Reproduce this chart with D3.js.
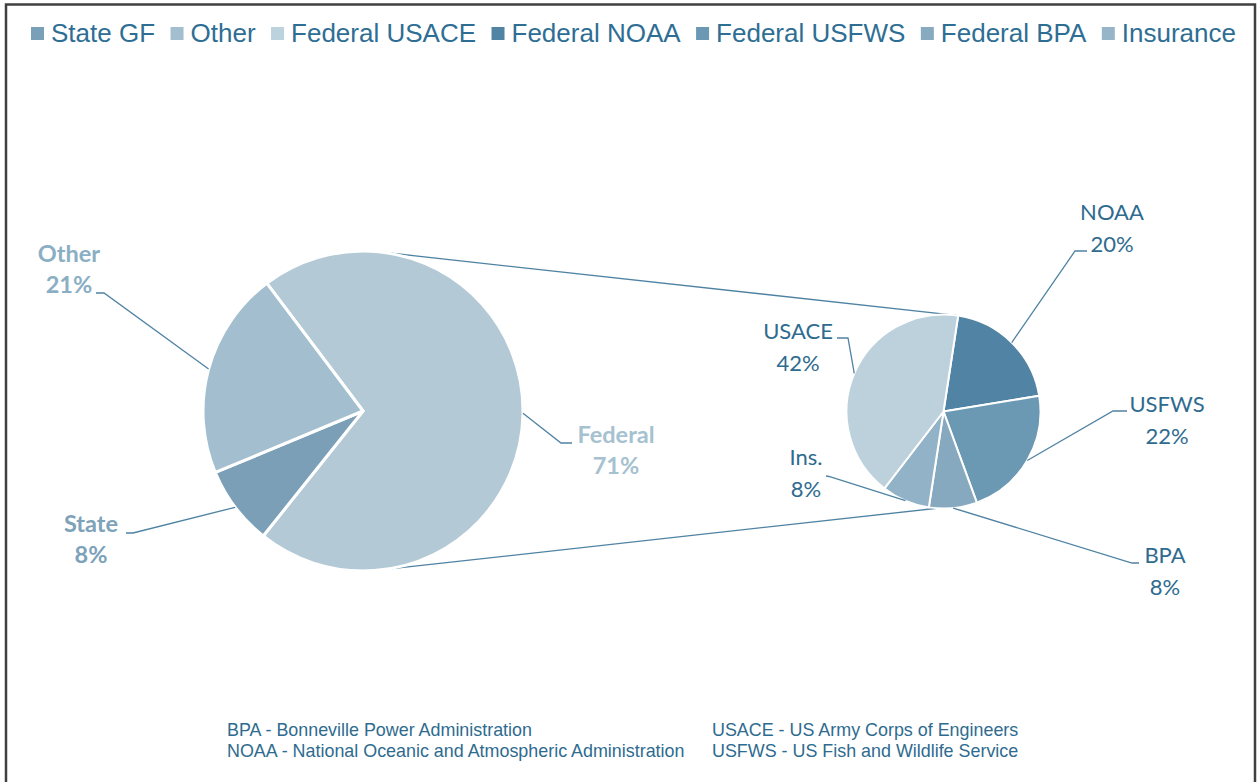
<!DOCTYPE html>
<html>
<head>
<meta charset="utf-8">
<script src="https://cdnjs.cloudflare.com/ajax/libs/d3/7.8.5/d3.min.js"></script>
<style>
  body { margin: 0; background: #fff; }
  svg { display: block; }
</style>
</head>
<body>
<div id="chart-area"></div>
<script>

// Chart data
var mainCategories = ["Federal", "State", "Other"];
var mainValues = [71, 8, 21];

var subCategories = ["NOAA", "USFWS", "BPA", "Ins.", "USACE"];
var subValues = [20, 22, 8, 8, 42];

var legendNames = ["State GF", "Other", "Federal USACE", "Federal NOAA", "Federal USFWS", "Federal BPA", "Insurance"];

var footnotes = [
    ["BPA - Bonneville Power Administration", "NOAA - National Oceanic and Atmospheric Administration"],
    ["USACE - US Army Corps of Engineers", "USFWS - US Fish and Wildlife Service"]
];

// Colours
var mainColors = { "Federal": "#b3c9d6", "State": "#7a9fb7", "Other": "#a3bfcf" };
var mainLabelColors = { "Federal": "#a6c1d0", "State": "#7da2b9", "Other": "#8aafc4" };
var subColors = { "NOAA": "#5083a4", "USFWS": "#6b98b3", "BPA": "#86a9bf", "Ins.": "#92b3c7", "USACE": "#bcd1dc" };
var legendColors = ["#7aa0b8", "#a3bfcf", "#bcd2dd", "#5083a4", "#6b99b4", "#87aac0", "#97b5c8"];

var textBlue = "#2e6b8f";
var lineBlue = "#4f83a3";

// SVG Size
var width = 1257,
    height = 782;

var svg = d3.select("#chart-area")
    .append("svg")
    .attr("width", width)
    .attr("height", height);

// outer frame (bottom edge runs off the picture)
svg.append("rect")
    .attr("x", 6)
    .attr("y", 4.5)
    .attr("width", 1249)
    .attr("height", 800)
    .attr("fill", "none")
    .attr("stroke", "#404040")
    .attr("stroke-width", 2.5);

var deg = Math.PI / 180;

// main pie geometry
var mainCx = 363, mainCy = 411, mainR = 160;
// secondary pie geometry
var subCx = 943.5, subCy = 411.5, subR = 97;

function edgePoint(cx, cy, r, a) {
    return [cx + r * Math.sin(a), cy - r * Math.cos(a)];
}

var mainPie = d3.pie().sort(null).value(function (d) { return d.value; })
    .startAngle(-37 * deg).endAngle(323 * deg);
var subPie = d3.pie().sort(null).value(function (d) { return d.value; })
    .startAngle(8.7 * deg).endAngle(368.7 * deg);

var mainData = mainPie(mainCategories.map(function (c, i) { return { name: c, value: mainValues[i] }; }));
var subData = subPie(subCategories.map(function (c, i) { return { name: c, value: subValues[i] }; }));

var mainArc = d3.arc().innerRadius(0).outerRadius(mainR);
var subArc = d3.arc().innerRadius(0).outerRadius(subR);

// connector lines between the two pies
var connectors = [[7.9, 8.7], [172, 184]];
svg.selectAll(".connector")
    .data(connectors)
    .enter()
    .append("line")
    .attr("class", "connector")
    .attr("x1", function (d) { return edgePoint(mainCx, mainCy, mainR, d[0] * deg)[0]; })
    .attr("y1", function (d) { return edgePoint(mainCx, mainCy, mainR, d[0] * deg)[1]; })
    .attr("x2", function (d) { return edgePoint(subCx, subCy, subR, d[1] * deg)[0]; })
    .attr("y2", function (d) { return edgePoint(subCx, subCy, subR, d[1] * deg)[1]; })
    .attr("stroke", lineBlue)
    .attr("stroke-width", 1.3);

var mainG = svg.append("g").attr("transform", "translate(" + mainCx + "," + mainCy + ")");
mainG.selectAll("path")
    .data(mainData)
    .enter()
    .append("path")
    .attr("d", mainArc)
    .attr("fill", function (d) { return mainColors[d.data.name]; })
    .attr("stroke", "#fff")
    .attr("stroke-width", 3)
    .attr("stroke-linejoin", "round");

var subG = svg.append("g").attr("transform", "translate(" + subCx + "," + subCy + ")");
subG.selectAll("path")
    .data(subData)
    .enter()
    .append("path")
    .attr("d", subArc)
    .attr("fill", function (d) { return subColors[d.data.name]; })
    .attr("stroke", "#fff")
    .attr("stroke-width", 2)
    .attr("stroke-linejoin", "round");

// label layout: text centre x, first baseline, elbow point and end of the leader
var mainLabelPos = {
    "Other":   { x: 69,  y: 262, elbow: [104, 293], end: [96, 293] },
    "Federal": { x: 616, y: 443, elbow: [561, 443], end: [572, 443] },
    "State":   { x: 91,  y: 532, elbow: [133, 533], end: [126, 533] }
};
var subLabelPos = {
    "NOAA":  { x: 1112, y: 220, elbow: [1075, 251], end: [1087, 251] },
    "USACE": { x: 798,  y: 339, elbow: [848, 338], end: [837, 338] },
    "USFWS": { x: 1167, y: 412, elbow: [1113, 411], end: [1127, 411] },
    "Ins.":  { x: 806,  y: 465, elbow: [829, 476.5], end: [826, 476] },
    "BPA":   { x: 1165, y: 563, elbow: [1132, 563], end: [1139, 563] }
};

function leader(cx, cy, r, d, pos) {
    var mid = (d.startAngle + d.endAngle) / 2;
    var p = edgePoint(cx, cy, r, mid);
    return d3.line()([p, pos.elbow, pos.end]);
}

svg.selectAll(".main-leader")
    .data(mainData)
    .enter()
    .append("path")
    .attr("class", "main-leader")
    .attr("d", function (d) { return leader(mainCx, mainCy, mainR, d, mainLabelPos[d.data.name]); })
    .attr("fill", "none")
    .attr("stroke", lineBlue)
    .attr("stroke-width", 1.3);

svg.selectAll(".sub-leader")
    .data(subData)
    .enter()
    .append("path")
    .attr("class", "sub-leader")
    .attr("d", function (d) { return leader(subCx, subCy, subR, d, subLabelPos[d.data.name]); })
    .attr("fill", "none")
    .attr("stroke", lineBlue)
    .attr("stroke-width", 1.3);

var mainLabels = svg.selectAll(".main-label")
    .data(mainData)
    .enter()
    .append("text")
    .attr("class", "main-label")
    .attr("text-anchor", "middle")
    .attr("font-family", "Lato, 'Open Sans', sans-serif")
    .attr("font-weight", "bold")
    .attr("font-size", 23.5)
    .attr("fill", function (d) { return mainLabelColors[d.data.name]; });
mainLabels.append("tspan")
    .attr("x", function (d) { return mainLabelPos[d.data.name].x; })
    .attr("y", function (d) { return mainLabelPos[d.data.name].y; })
    .text(function (d) { return d.data.name; });
mainLabels.append("tspan")
    .attr("x", function (d) { return mainLabelPos[d.data.name].x; })
    .attr("y", function (d) { return mainLabelPos[d.data.name].y + 31; })
    .text(function (d) { return d.data.value + "%"; });

var subLabels = svg.selectAll(".sub-label")
    .data(subData)
    .enter()
    .append("text")
    .attr("class", "sub-label")
    .attr("text-anchor", "middle")
    .attr("font-family", "Lato, 'Open Sans', sans-serif")
    .attr("font-size", 22)
    .attr("fill", textBlue);
subLabels.append("tspan")
    .attr("x", function (d) { return subLabelPos[d.data.name].x; })
    .attr("y", function (d) { return subLabelPos[d.data.name].y; })
    .text(function (d) { return d.data.name; });
subLabels.append("tspan")
    .attr("x", function (d) { return subLabelPos[d.data.name].x; })
    .attr("y", function (d) { return subLabelPos[d.data.name].y + 32; })
    .text(function (d) { return d.data.value + "%"; });

// Legend across the top
var legend = svg.append("g").attr("class", "legend");
var markerSize = 13, markerGap = 7;
var legendLeft = 31, legendRight = 1236;

var items = legend.selectAll("g")
    .data(legendNames)
    .enter()
    .append("g");
items.append("rect")
    .attr("width", markerSize)
    .attr("height", markerSize)
    .attr("y", 27)
    .attr("fill", function (d, i) { return legendColors[i]; });
items.append("text")
    .attr("x", markerSize + markerGap)
    .attr("y", 42)
    .attr("font-family", "'Liberation Sans', Arial, sans-serif")
    .attr("font-size", 26)
    .attr("fill", "#2e6e94")
    .text(function (d) { return d; });

var textWidths = [];
items.select("text").each(function () { textWidths.push(this.getComputedTextLength()); });
var used = d3.sum(textWidths) + legendNames.length * (markerSize + markerGap);
var itemGap = (legendRight - legendLeft - used) / (legendNames.length - 1);
var cursor = legendLeft;
items.attr("transform", function (d, i) {
    var t = "translate(" + cursor + ",0)";
    cursor += markerSize + markerGap + textWidths[i] + itemGap;
    return t;
});

// Footnote with abbreviations
var colX = [227, 712];
footnotes.forEach(function (col, ci) {
    col.forEach(function (line, li) {
        svg.append("text")
            .attr("x", colX[ci])
            .attr("y", 736 + li * 21)
            .attr("font-family", "'Liberation Sans', Arial, sans-serif")
            .attr("font-size", 17.9)
            .attr("fill", textBlue)
            .text(line);
    });
});

</script>
</body>
</html>
